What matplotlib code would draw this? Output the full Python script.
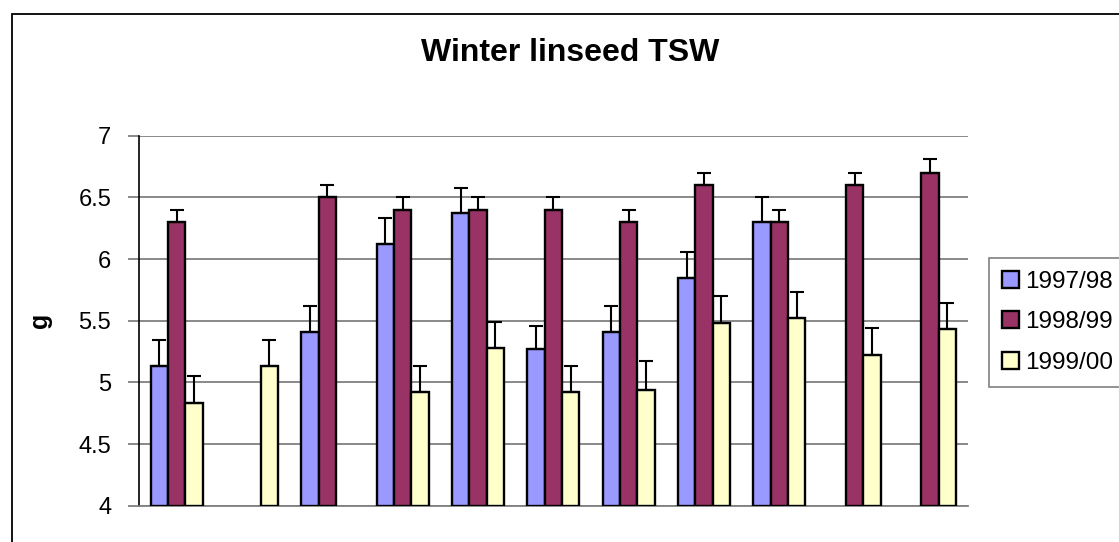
import numpy as np
import matplotlib.pyplot as plt
from matplotlib.patches import Rectangle

plt.rcParams['font.family'] = ['Liberation Sans', 'DejaVu Sans']

# values (nan = no bar)
seasons = ['1997/98', '1998/99', '1999/00']
tsw_9798 = [5.13, np.nan, 5.41, 6.12, 6.37, 5.27, 5.41, 5.85, 6.30, np.nan, np.nan]
tsw_9899 = [6.30, np.nan, 6.50, 6.40, 6.40, 6.40, 6.30, 6.60, 6.30, 6.60, 6.70]
tsw_9900 = [4.83, 5.13, np.nan, 4.92, 5.28, 4.92, 4.94, 5.48, 5.52, 5.22, 5.43]
err_9798 = [0.21, np.nan, 0.21, 0.21, 0.21, 0.19, 0.21, 0.21, 0.20, np.nan, np.nan]
err_9899 = [0.10, np.nan, 0.10, 0.10, 0.10, 0.10, 0.10, 0.10, 0.10, 0.10, 0.11]
err_9900 = [0.22, 0.21, np.nan, 0.21, 0.21, 0.21, 0.23, 0.22, 0.21, 0.22, 0.21]
colours = ['#9999FF', '#993366', '#FFFFCC']

fig = plt.figure(figsize=(11.19, 5.42), dpi=100)
ax = fig.add_axes([139/1119, 1-505.7/542, (967.7-139)/1119, (505.7-135.7)/542])

# outer chart frame
fig.patches.append(Rectangle((12/1119, -0.1), 1.2, 1.1-13.5/542, transform=fig.transFigure,
                             fill=False, edgecolor='black', linewidth=1.3))

x = np.arange(len(tsw_9899))
w = 0.23
series = [tsw_9798, tsw_9899, tsw_9900]
errs = [err_9798, err_9899, err_9900]
for i in range(3):
    vals = np.array(series[i])
    e = np.array(errs[i])
    pos = x + (i-1)*w
    ax.bar(pos, vals-4, bottom=4, width=w, color=colours[i], edgecolor='black',
           linewidth=1.7, label=seasons[i], zorder=3)
    ax.errorbar(pos, vals, yerr=[np.zeros_like(e), e], fmt='none', ecolor='black',
                elinewidth=1.5, capsize=5, capthick=1.5, zorder=4)

ax.set_xlim(-0.5, len(x)-0.5)
ax.set_ylim(4, 7)
ax.set_yticks([4, 4.5, 5, 5.5, 6, 6.5, 7])
ax.set_yticklabels(['4', '4.5', '5', '5.5', '6', '6.5', '7'])
ax.set_xticks([])
ax.yaxis.grid(True, color='#808080', linewidth=1.3, zorder=0)
ax.tick_params(axis='y', labelsize=17, length=8, width=1.3, color='#808080', pad=12)
for s in ['top', 'right']:
    ax.spines[s].set_visible(False)
ax.spines['left'].set_color('black')
ax.spines['left'].set_linewidth(1.2)
ax.spines['bottom'].set_color('#808080')
ax.spines['bottom'].set_linewidth(1.3)

fig.text(570/1119, 1-53/542, 'Winter linseed TSW', ha='center', va='center',
         fontsize=23, fontweight='bold')
fig.text(40/1119, 1-320/542, 'g', ha='center', va='center', rotation=90,
         fontsize=18, fontweight='bold')

leg = ax.legend(loc='upper left', bbox_to_anchor=(989/1119, 1-257.7/542),
                bbox_transform=fig.transFigure, fontsize=17.5, frameon=True,
                fancybox=False, edgecolor='#606060', handlelength=0.7,
                handleheight=0.7, handletextpad=0.25, labelspacing=0.75,
                borderpad=0.55, borderaxespad=0)
leg.get_frame().set_linewidth(1.2)

fig.savefig('out.png', dpi=100)
